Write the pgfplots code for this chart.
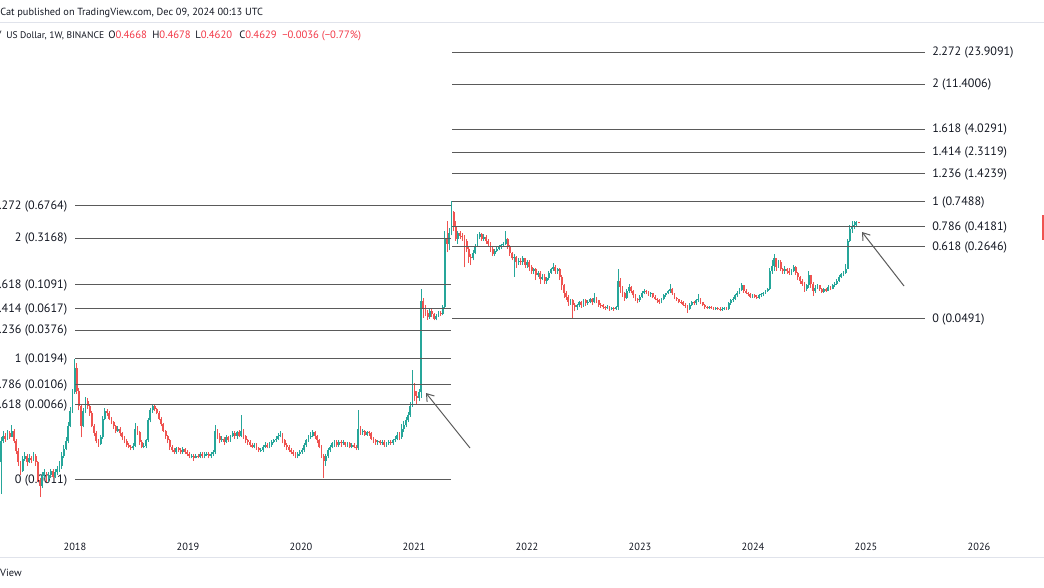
\documentclass[border=0pt]{standalone}
\usepackage{pgfplots}
\pgfplotsset{compat=1.18}
\usepackage{pgfplotstable}
\usetikzlibrary{arrows.meta}
\usepackage{fontspec}
\setmainfont{PT Sans}
\definecolor{up}{HTML}{26A69A}
\definecolor{dn}{HTML}{EF5350}
\definecolor{txt}{HTML}{131722}
\definecolor{fibc}{HTML}{5A5A5A}
\definecolor{sepc}{HTML}{E0E3EB}
\definecolor{neg}{HTML}{F23645}

% weekly candles: week index, open, high, low, close
\pgfplotstableread{
w o h l c
0 0.00174 0.0031 0.00083 0.00288
1 0.00288 0.0036 0.0027 0.00323
2 0.00323 0.0034 0.0028 0.00301
3 0.00301 0.0037 0.0029 0.00346
4 0.00346 0.0036 0.0030 0.00316
5 0.00316 0.0041 0.0031 0.00363
6 0.00363 0.0038 0.0027 0.00288
7 0.00288 0.0030 0.0021 0.00228
8 0.00228 0.0024 0.0016 0.00174
9 0.00174 0.0018 0.0013 0.00143
10 0.00143 0.0020 0.0014 0.00188
11 0.00188 0.0022 0.0018 0.00203
12 0.00203 0.0021 0.0016 0.00174
13 0.00174 0.0021 0.0017 0.00194
14 0.00194 0.0020 0.0017 0.00181
15 0.00181 0.0022 0.0018 0.00203
16 0.00203 0.0021 0.0016 0.00174
17 0.00174 0.0018 0.0011 0.00114
18 0.00114 0.0012 0.00077 0.00101
19 0.00101 0.0014 0.00095 0.00127
20 0.00127 0.0015 0.0012 0.00137
21 0.00137 0.0014 0.0011 0.00119
22 0.00119 0.0014 0.0011 0.00130
23 0.00130 0.0015 0.0012 0.00143
24 0.00143 0.0015 0.0012 0.00124
25 0.00124 0.0015 0.0012 0.00137
26 0.00137 0.0016 0.0013 0.00150
27 0.00150 0.0018 0.0014 0.00161
28 0.00161 0.0022 0.0015 0.00203
29 0.00203 0.0026 0.0019 0.00238
30 0.00238 0.0031 0.0023 0.00288
31 0.00288 0.0044 0.0027 0.00408
32 0.00408 0.0063 0.0039 0.00578
33 0.00578 0.0095 0.0055 0.0088
34 0.0088 0.0194 0.0085 0.0154
35 0.0154 0.0176 0.0085 0.0092
36 0.0092 0.0097 0.0058 0.0065
37 0.0065 0.0068 0.0031 0.00408
38 0.00408 0.0062 0.0039 0.00578
39 0.00578 0.0080 0.0055 0.0073
40 0.0073 0.0078 0.0060 0.0065
41 0.0065 0.0067 0.0051 0.0055
42 0.0055 0.0057 0.0039 0.00408
43 0.00408 0.0042 0.0032 0.00346
44 0.00346 0.0036 0.0027 0.00288
45 0.00288 0.0030 0.0025 0.00266
46 0.00266 0.0033 0.0026 0.00316
47 0.00316 0.0051 0.0030 0.0048
48 0.0048 0.0062 0.0046 0.00578
49 0.00578 0.0060 0.0051 0.0055
50 0.0055 0.0057 0.0046 0.0048
51 0.0048 0.0050 0.0042 0.0044
52 0.0044 0.0045 0.0038 0.0040
53 0.0040 0.0041 0.0034 0.00363
54 0.00363 0.0040 0.0035 0.0038
55 0.0038 0.0039 0.0032 0.0034
56 0.0034 0.0035 0.0029 0.0031
57 0.0031 0.0032 0.0027 0.00288
58 0.00288 0.0030 0.0025 0.0026
59 0.0026 0.0027 0.0024 0.0025
60 0.0025 0.0026 0.0023 0.0024
61 0.0024 0.0027 0.0023 0.00256
62 0.00256 0.0043 0.0025 0.0038
63 0.0038 0.0040 0.0033 0.0035
64 0.0035 0.0036 0.0026 0.0028
65 0.0028 0.0029 0.0024 0.0025
66 0.0025 0.0027 0.0024 0.00252
67 0.00252 0.0030 0.0024 0.0029
68 0.0029 0.0049 0.0028 0.0046
69 0.0046 0.0062 0.0044 0.0058
70 0.0058 0.0068 0.0055 0.0064
71 0.0064 0.0067 0.0057 0.0060
72 0.0060 0.0062 0.0053 0.0055
73 0.0055 0.0057 0.0046 0.0048
74 0.0048 0.0050 0.0040 0.0042
75 0.0042 0.0043 0.0035 0.0036
76 0.0036 0.0037 0.0030 0.0032
77 0.0032 0.0033 0.0027 0.0029
78 0.0029 0.0030 0.0023 0.0025
79 0.0025 0.0026 0.0022 0.0023
80 0.0023 0.0024 0.0021 0.0022
81 0.0022 0.0025 0.0021 0.0024
82 0.0024 0.0025 0.0022 0.0023
83 0.0023 0.0024 0.0021 0.0022
84 0.0022 0.0025 0.0021 0.00235
85 0.00235 0.0024 0.0021 0.0022
86 0.0022 0.0023 0.0020 0.0021
87 0.0021 0.0022 0.0019 0.0020
88 0.0020 0.0021 0.0019 0.00203
89 0.00203 0.0021 0.0018 0.0019
90 0.0019 0.0021 0.0019 0.0020
91 0.0020 0.0021 0.0019 0.00198
92 0.00198 0.0022 0.0019 0.0021
93 0.0021 0.0022 0.0019 0.0020
94 0.0020 0.0022 0.0019 0.0021
95 0.0021 0.0022 0.0020 0.00212
96 0.00212 0.0022 0.0019 0.0020
97 0.0020 0.0022 0.0019 0.0021
98 0.0021 0.0023 0.0020 0.0022
99 0.0022 0.0041 0.0021 0.0036
100 0.0036 0.0038 0.0030 0.0032
101 0.0032 0.0034 0.0027 0.0029
102 0.0029 0.0032 0.0028 0.0030
103 0.0030 0.0031 0.0026 0.0028
104 0.0028 0.0033 0.0027 0.0031
105 0.0031 0.0032 0.0028 0.0029
106 0.0029 0.0033 0.0028 0.0032
107 0.0032 0.0036 0.0031 0.0034
108 0.0034 0.0036 0.0030 0.0032
109 0.0032 0.0036 0.0030 0.0035
110 0.0035 0.0037 0.0031 0.0032
111 0.0032 0.0052 0.0031 0.0036
112 0.0036 0.0038 0.0030 0.0032
113 0.0032 0.0033 0.0027 0.0029
114 0.0029 0.0030 0.0026 0.0028
115 0.0028 0.0029 0.0025 0.0026
116 0.0026 0.0027 0.0024 0.0025
117 0.0025 0.0027 0.0024 0.0026
118 0.0026 0.0027 0.0023 0.0024
119 0.0024 0.0025 0.0022 0.0023
120 0.0023 0.0024 0.0022 0.00232
121 0.00232 0.0026 0.0022 0.0025
122 0.0025 0.0028 0.0024 0.0026
123 0.0026 0.0027 0.0024 0.0025
124 0.0025 0.0028 0.0024 0.0026
125 0.0026 0.0029 0.0025 0.0028
126 0.0028 0.0030 0.0027 0.0029
127 0.0029 0.0032 0.0028 0.0030
128 0.0030 0.0034 0.0029 0.0032
129 0.0032 0.0036 0.0031 0.0033
130 0.0033 0.0034 0.0027 0.0029
131 0.0029 0.0030 0.0025 0.0026
132 0.0026 0.0027 0.0023 0.0025
133 0.0025 0.0026 0.0022 0.0023
134 0.0023 0.0024 0.0021 0.0022
135 0.0022 0.0023 0.0020 0.0021
136 0.0021 0.0022 0.0019 0.0020
137 0.0020 0.0022 0.0019 0.0021
138 0.0021 0.0023 0.0020 0.0022
139 0.0022 0.0024 0.0021 0.0023
140 0.0023 0.0027 0.0022 0.0026
141 0.0026 0.0030 0.0025 0.0029
142 0.0029 0.0033 0.0028 0.0031
143 0.0031 0.0035 0.0030 0.0032
144 0.0032 0.0037 0.0031 0.0035
145 0.0035 0.0036 0.0030 0.0032
146 0.0032 0.0033 0.0027 0.0029
147 0.0029 0.0030 0.0024 0.0025
148 0.0025 0.0026 0.0019 0.0020
149 0.0020 0.0021 0.0012 0.0018
150 0.0018 0.0021 0.0016 0.0020
151 0.0020 0.0024 0.0019 0.0023
152 0.0023 0.0026 0.0022 0.0025
153 0.0025 0.0028 0.0024 0.0027
154 0.0027 0.0029 0.0025 0.0028
155 0.0028 0.0029 0.0025 0.0026
156 0.0026 0.0029 0.0025 0.0028
157 0.0028 0.0029 0.0025 0.0027
158 0.0027 0.0029 0.0026 0.0028
159 0.0028 0.0028 0.0025 0.0026
160 0.0026 0.0028 0.0025 0.0027
161 0.0027 0.0028 0.0024 0.0025
162 0.0025 0.0027 0.0024 0.0026
163 0.0026 0.0027 0.0024 0.0025
164 0.0025 0.0026 0.0023 0.0024
165 0.0024 0.0058 0.0023 0.0038
166 0.0038 0.0040 0.0033 0.0035
167 0.0035 0.0038 0.0033 0.0036
168 0.0036 0.0037 0.0032 0.0033
169 0.0033 0.0036 0.0032 0.0035
170 0.0035 0.0036 0.0032 0.0034
171 0.0034 0.0035 0.0029 0.0030
172 0.0030 0.0031 0.0027 0.0029
173 0.0029 0.0030 0.0026 0.0028
174 0.0028 0.0029 0.0026 0.00282
175 0.00282 0.0029 0.0026 0.0027
176 0.0027 0.0029 0.0026 0.0028
177 0.0028 0.0029 0.0025 0.0026
178 0.0026 0.0028 0.0025 0.0027
179 0.0027 0.0029 0.0026 0.0028
180 0.0028 0.0029 0.0026 0.0027
181 0.0027 0.0030 0.0026 0.0029
182 0.0029 0.0032 0.0028 0.0030
183 0.0030 0.0035 0.0029 0.0033
184 0.0033 0.0035 0.0029 0.0031
185 0.0031 0.0042 0.0030 0.0038
186 0.0038 0.0045 0.0035 0.0041
187 0.0041 0.0050 0.0039 0.0046
188 0.0046 0.0056 0.0044 0.0052
189 0.0052 0.0070 0.0050 0.0065
190 0.0065 0.0147 0.0063 0.0092
191 0.0092 0.0110 0.0072 0.0082
192 0.0082 0.0092 0.0068 0.0078
193 0.0078 0.0095 0.0072 0.0088
194 0.0088 0.097 0.0078 0.0746
195 0.0746 0.080 0.050 0.0625
196 0.0625 0.068 0.052 0.0564
197 0.0564 0.060 0.048 0.0515
198 0.0515 0.062 0.049 0.0592
199 0.0592 0.062 0.051 0.0540
200 0.0540 0.056 0.047 0.0491
201 0.0491 0.055 0.047 0.0527
202 0.0527 0.059 0.051 0.0564
203 0.0564 0.058 0.052 0.0551
204 0.0551 0.067 0.053 0.0650
205 0.0650 0.380 0.062 0.322
206 0.322 0.480 0.23 0.280
207 0.280 0.40 0.24 0.363
208 0.363 0.764 0.34 0.581
209 0.581 0.60 0.38 0.427
210 0.427 0.48 0.30 0.314
211 0.314 0.38 0.28 0.363
212 0.363 0.38 0.31 0.338
213 0.338 0.36 0.30 0.331
214 0.331 0.34 0.162 0.301
215 0.301 0.31 0.23 0.250
216 0.250 0.26 0.18 0.208
217 0.208 0.22 0.17 0.199
218 0.199 0.24 0.19 0.228
219 0.228 0.28 0.22 0.268
220 0.268 0.35 0.26 0.331
221 0.331 0.37 0.31 0.354
222 0.354 0.36 0.30 0.314
223 0.314 0.35 0.30 0.331
224 0.331 0.34 0.28 0.301
225 0.301 0.31 0.26 0.280
226 0.280 0.29 0.23 0.250
227 0.250 0.26 0.21 0.222
228 0.222 0.25 0.21 0.239
229 0.239 0.26 0.23 0.250
230 0.250 0.27 0.24 0.262
231 0.262 0.28 0.25 0.274
232 0.274 0.29 0.26 0.280
233 0.280 0.38 0.27 0.314
234 0.314 0.32 0.25 0.268
235 0.268 0.27 0.21 0.228
236 0.228 0.23 0.19 0.199
237 0.199 0.22 0.130 0.208
238 0.208 0.21 0.16 0.181
239 0.181 0.20 0.17 0.189
240 0.189 0.20 0.17 0.181
241 0.181 0.21 0.17 0.199
242 0.199 0.20 0.16 0.172
243 0.172 0.19 0.16 0.181
244 0.181 0.19 0.15 0.164
245 0.164 0.17 0.14 0.150
246 0.150 0.16 0.14 0.157
247 0.157 0.16 0.12 0.134
248 0.134 0.15 0.13 0.143
249 0.143 0.15 0.11 0.124
250 0.124 0.14 0.12 0.130
251 0.130 0.14 0.11 0.119
252 0.119 0.13 0.11 0.127
253 0.127 0.15 0.12 0.143
254 0.143 0.16 0.14 0.157
255 0.157 0.18 0.15 0.164
256 0.164 0.17 0.14 0.150
257 0.150 0.16 0.14 0.157
258 0.157 0.16 0.12 0.130
259 0.130 0.135 0.095 0.106
260 0.106 0.11 0.080 0.090
261 0.090 0.094 0.076 0.082
262 0.082 0.085 0.066 0.072
263 0.072 0.078 0.068 0.075
264 0.075 0.077 0.049 0.068
265 0.068 0.070 0.058 0.064
266 0.064 0.069 0.060 0.067
267 0.067 0.074 0.064 0.072
268 0.072 0.074 0.063 0.067
269 0.067 0.078 0.065 0.075
270 0.075 0.077 0.066 0.070
271 0.070 0.075 0.068 0.073
272 0.073 0.080 0.070 0.078
273 0.078 0.080 0.068 0.072
274 0.072 0.088 0.070 0.080
275 0.080 0.082 0.071 0.075
276 0.075 0.076 0.065 0.068
277 0.068 0.070 0.063 0.067
278 0.067 0.069 0.061 0.0645
279 0.0645 0.066 0.060 0.063
280 0.063 0.067 0.061 0.0645
281 0.0645 0.066 0.059 0.062
282 0.062 0.065 0.060 0.063
283 0.063 0.065 0.059 0.062
284 0.062 0.066 0.060 0.0645
285 0.0645 0.155 0.060 0.119
286 0.119 0.125 0.090 0.103
287 0.103 0.105 0.082 0.090
288 0.090 0.092 0.074 0.080
289 0.080 0.098 0.078 0.094
290 0.094 0.110 0.088 0.103
291 0.103 0.105 0.088 0.094
292 0.094 0.095 0.080 0.084
293 0.084 0.086 0.074 0.078
294 0.078 0.080 0.070 0.075
295 0.075 0.084 0.072 0.082
296 0.082 0.093 0.080 0.090
297 0.090 0.097 0.086 0.094
298 0.094 0.096 0.087 0.092
299 0.092 0.094 0.083 0.086
300 0.086 0.091 0.082 0.088
301 0.088 0.090 0.079 0.082
302 0.082 0.084 0.075 0.078
303 0.078 0.080 0.071 0.075
304 0.075 0.077 0.069 0.072
305 0.072 0.079 0.070 0.077
306 0.077 0.086 0.075 0.084
307 0.084 0.090 0.082 0.088
308 0.088 0.096 0.086 0.094
309 0.094 0.110 0.089 0.098
310 0.098 0.100 0.085 0.088
311 0.088 0.090 0.077 0.080
312 0.080 0.082 0.074 0.077
313 0.077 0.078 0.070 0.073
314 0.073 0.075 0.069 0.072
315 0.072 0.074 0.066 0.068
316 0.068 0.070 0.063 0.067
317 0.067 0.068 0.056 0.062
318 0.062 0.070 0.060 0.068
319 0.068 0.074 0.066 0.072
320 0.072 0.074 0.067 0.070
321 0.070 0.077 0.068 0.075
322 0.075 0.086 0.072 0.078
323 0.078 0.080 0.069 0.072
324 0.072 0.073 0.066 0.068
325 0.068 0.069 0.062 0.0645
326 0.0645 0.066 0.061 0.063
327 0.063 0.066 0.061 0.0645
328 0.0645 0.066 0.061 0.063
329 0.063 0.065 0.060 0.062
330 0.062 0.065 0.060 0.063
331 0.063 0.065 0.060 0.062
332 0.062 0.064 0.058 0.061
333 0.061 0.064 0.059 0.062
334 0.062 0.065 0.060 0.063
335 0.063 0.065 0.060 0.062
336 0.062 0.072 0.060 0.070
337 0.070 0.077 0.068 0.075
338 0.075 0.081 0.073 0.078
339 0.078 0.086 0.076 0.084
340 0.084 0.093 0.081 0.090
341 0.090 0.100 0.087 0.096
342 0.096 0.113 0.093 0.106
343 0.106 0.108 0.090 0.094
344 0.094 0.097 0.086 0.090
345 0.090 0.092 0.083 0.086
346 0.086 0.088 0.079 0.082
347 0.082 0.086 0.079 0.084
348 0.084 0.086 0.079 0.082
349 0.082 0.084 0.077 0.080
350 0.080 0.086 0.078 0.084
351 0.084 0.088 0.081 0.086
352 0.086 0.092 0.083 0.090
353 0.090 0.096 0.087 0.094
354 0.094 0.101 0.091 0.098
355 0.098 0.160 0.095 0.150
356 0.150 0.190 0.140 0.168
357 0.168 0.220 0.150 0.199
358 0.199 0.200 0.150 0.164
359 0.164 0.190 0.160 0.181
360 0.181 0.190 0.150 0.157
361 0.157 0.160 0.140 0.150
362 0.150 0.166 0.140 0.157
363 0.157 0.160 0.140 0.150
364 0.150 0.160 0.135 0.143
365 0.143 0.155 0.135 0.150
366 0.150 0.170 0.145 0.164
367 0.164 0.168 0.135 0.143
368 0.143 0.145 0.120 0.130
369 0.130 0.132 0.110 0.119
370 0.119 0.122 0.105 0.111
371 0.111 0.115 0.092 0.098
372 0.098 0.110 0.094 0.106
373 0.106 0.150 0.100 0.134
374 0.134 0.135 0.100 0.111
375 0.111 0.115 0.083 0.094
376 0.094 0.106 0.089 0.101
377 0.101 0.110 0.098 0.106
378 0.106 0.108 0.094 0.098
379 0.098 0.100 0.089 0.092
380 0.092 0.100 0.090 0.098
381 0.098 0.100 0.091 0.094
382 0.094 0.106 0.093 0.103
383 0.103 0.105 0.095 0.098
384 0.098 0.110 0.097 0.106
385 0.106 0.115 0.103 0.111
386 0.111 0.123 0.108 0.119
387 0.119 0.135 0.115 0.130
388 0.130 0.142 0.126 0.137
389 0.137 0.148 0.132 0.143
390 0.143 0.175 0.138 0.157
391 0.157 0.31 0.155 0.301
392 0.301 0.43 0.29 0.397
393 0.397 0.48 0.36 0.427
394 0.427 0.47 0.39 0.436
395 0.436 0.48 0.41 0.4668
396 0.4668 0.4678 0.4620 0.4629
}\ohlc

% fib extension levels: start week, length in weeks, price
\pgfplotstableread{
x0 dx p
34.17 173.6 0.6764
34.17 173.6 0.3168
34.17 173.6 0.1091
34.17 173.6 0.0617
34.17 173.6 0.0376
34.17 173.6 0.0194
34.17 173.6 0.0106
34.17 173.6 0.0066
34.17 173.6 0.00116
208.3 218.4 23.9091
208.3 218.4 11.4006
208.3 218.4 4.0291
208.3 218.4 2.3119
208.3 218.4 1.4239
208.3 218.4 0.7488
208.3 218.4 0.4181
208.3 218.4 0.2646
208.3 218.4 0.0491
}\fib

\pgfplotsset{
  candle/.style={draw=none, mark=none,
    error bars/y dir=plus, error bars/y explicit, error bars/error mark=none},
}

\begin{document}
% 1 unit = 1 pixel of the 1044x587 picture, y counted from the bottom
\begin{tikzpicture}[x=0.75pt, y=0.75pt, font=\fontsize{9.1}{11}\selectfont]
\useasboundingbox (0,0) rectangle (1044,587);

% header
\node[anchor=base west, inner sep=0, text=txt, font=\fontsize{7.75}{10}\selectfont] at (0,571) {Cat published on TradingView.com, Dec 09, 2024 00:13 UTC};
\draw[sepc, line width=0.75pt] (0,564) -- (1044,564);
\begin{scope}[every node/.style={anchor=base west, inner sep=0, text=txt, font=\fontsize{8}{10}\selectfont}]
\node at (-3,548) {/};
\node[font=\fontsize{7.2}{10}\selectfont] at (6,548) {US Dollar, 1W, BINANCE};
\node at (108,548) {O\textcolor{neg}{0.4668}};
\node at (152,548) {H\textcolor{neg}{0.4678}};
\node at (195,548) {L\textcolor{neg}{0.4620}};
\node at (239,548) {C\textcolor{neg}{0.4629}};
\node at (282,548) {\textcolor{neg}{−0.0036 (−0.77\%)}};
\end{scope}

% fib labels (baseline about 4 px under the level line)
\begin{scope}[every node/.style={anchor=base east, inner sep=0, text=txt}]
\node at (67.5,378) {2.272 (0.6764)};
\node at (67.5,346) {2 (0.3168)};
\node at (67.5,299) {1.618 (0.1091)};
\node at (67.5,275) {1.414 (0.0617)};
\node at (67.5,254) {1.236 (0.0376)};
\node at (67.5,225) {1 (0.0194)};
\node at (67.5,199) {0.786 (0.0106)};
\node at (67.5,179) {0.618 (0.0066)};
\node at (67.5,104) {0 (0.0011)};
\end{scope}
\begin{scope}[every node/.style={anchor=base west, inner sep=0, text=txt}]
\node at (932,532) {2.272 (23.9091)};
\node at (932,500) {2 (11.4006)};
\node at (932,455) {1.618 (4.0291)};
\node at (932,432) {1.414 (2.3119)};
\node at (932,410) {1.236 (1.4239)};
\node at (932,382) {1 (0.7488)};
\node at (932,357) {0.786 (0.4181)};
\node at (932,337) {0.618 (0.2646)};
\node at (932,265) {0 (0.0491)};
\end{scope}

\begin{axis}[at={(0,57)}, anchor=south west, scale only axis,
  width=783pt, height=397.5pt,
  xmin=-0.4618, xmax=481.62, ymin=-3.4503, ymax=1.9032,
  axis line style={draw=none}, major tick length=0pt, ytick=\empty,
  xtick={34.17,86.35,138.53,190.71,242.89,295.07,347.25,399.43,451.61},
  xticklabels={2018,2019,2020,2021,2022,2023,2024,2025,2026},
  xticklabel style={font=\fontsize{7.8}{9}\selectfont, text=txt, yshift=-6pt},
]
% wicks
\addplot[x filter/.expression={\thisrow{c}<\thisrow{o} ? nan : x}, candle,
  error bars/error bar style={draw=up, line width=0.7pt}]
  table[x=w, y expr=ln(\thisrow{l})/2.302585,
        y error plus expr=(ln(\thisrow{h})-ln(\thisrow{l}))/2.302585] {\ohlc};
\addplot[x filter/.expression={\thisrow{c}<\thisrow{o} ? x : nan}, candle,
  error bars/error bar style={draw=dn, line width=0.7pt}]
  table[x=w, y expr=ln(\thisrow{l})/2.302585,
        y error plus expr=(ln(\thisrow{h})-ln(\thisrow{l}))/2.302585] {\ohlc};
% bodies
\addplot[x filter/.expression={\thisrow{c}<\thisrow{o} ? nan : x}, candle,
  error bars/error bar style={draw=up, line width=1.4pt}]
  table[x=w, y expr=ln(\thisrow{o})/2.302585,
        y error plus expr=(ln(\thisrow{c})-ln(\thisrow{o}))/2.302585] {\ohlc};
\addplot[x filter/.expression={\thisrow{c}<\thisrow{o} ? x : nan}, candle,
  error bars/error bar style={draw=dn, line width=1.4pt}]
  table[x=w, y expr=ln(\thisrow{c})/2.302585,
        y error plus expr=(ln(\thisrow{o})-ln(\thisrow{c}))/2.302585] {\ohlc};
% fib lines
\addplot[draw=none, mark=none,
  error bars/x dir=plus, error bars/x explicit, error bars/error mark=none,
  error bars/error bar style={draw=fibc, line width=0.8pt}]
  table[x=x0, y expr=ln(\thisrow{p})/2.302585, x error plus=dx] {\fib};
\end{axis}

% arrows
\draw[fibc, line width=0.75pt, -{Straight Barb[length=5pt,width=7pt]}] (470,139) -- (426,194);
\draw[fibc, line width=0.75pt, -{Straight Barb[length=5pt,width=7pt]}] (904,301) -- (862,355);

% bottom bar
\draw[sepc, line width=0.75pt] (0,30) -- (1044,30);
\node[anchor=base east, inner sep=0, text=txt, font=\fontsize{7.8}{9}\selectfont] at (22,11) {TradingView};
\fill[dn] (1042,347) rectangle (1050,372);
\end{tikzpicture}
\end{document}
